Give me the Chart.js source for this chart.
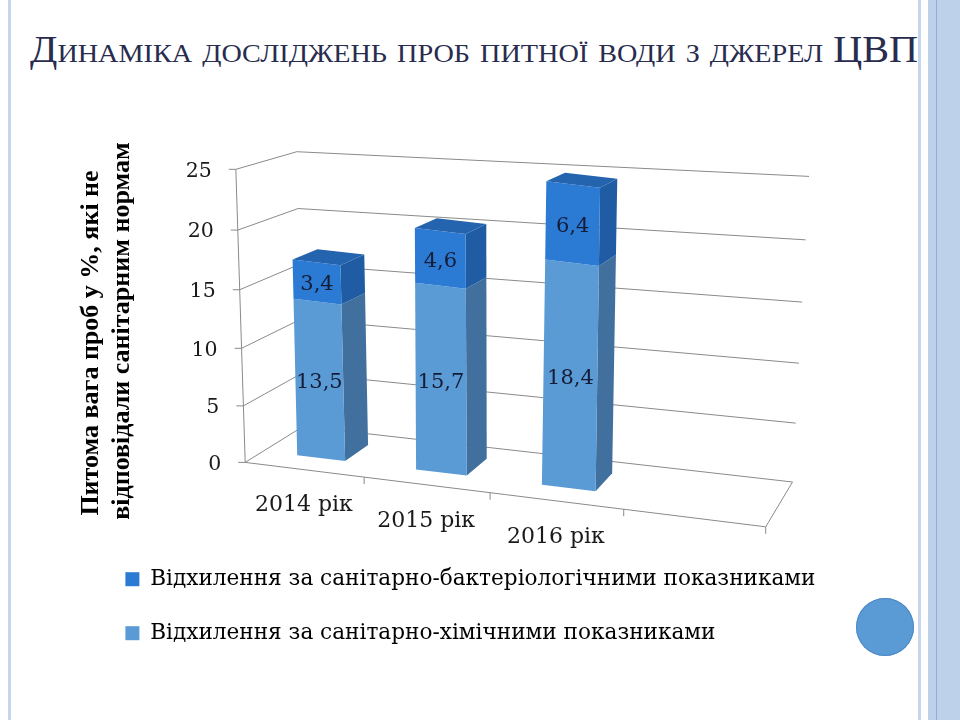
<!DOCTYPE html>
<html>
<head>
<meta charset="utf-8">
<script src="https://cdn.jsdelivr.net/npm/chart.js@4.4.1/dist/chart.umd.min.js"></script>
<style>
html, body { margin: 0; padding: 0; background: #fff; }
#slide { position: relative; width: 960px; height: 720px; overflow: hidden; background: #fff; }
.fl { position: absolute; top: 0; height: 720px; }
#title { position: absolute; left: 30px; top: 31px; white-space: nowrap; font-family: 'Liberation Serif', serif;
  font-variant: small-caps; font-size: 37px; line-height: 37px; color: #282c4e; transform-origin: 0 0; }
#dot { position: absolute; left: 856px; top: 598px; width: 58px; height: 58px; border-radius: 50%;
  background: #5b9bd5; box-shadow: inset 0 0 0 1px #4d89c4; }
#chartWrap { position: absolute; left: 0; top: 0; width: 960px; height: 720px; }
</style>
</head>
<body>
<div id="slide">
  <div class="fl" style="left:8px;width:3px;background:#c6d5eb"></div>
  <div class="fl" style="left:918px;width:3px;background:#c6d5eb"></div>
  <div class="fl" style="left:928px;width:32px;background:#bed1ea"></div>
  <div class="fl" style="left:936px;width:1px;background:#8daed9"></div>
  <div id="title">Динаміка досліджень проб питної води з джерел ЦВП</div>
  <div id="dot"></div>
  <div id="chartWrap"><canvas id="c"></canvas></div>
</div>
<script>
// ---------- data ----------
const categories = ['2014 рік', '2015 рік', '2016 рік', ''];
const chemicalValues = [13.5, 15.7, 18.4, null];
const bacteriologicalValues = [3.4, 4.6, 6.4, null];
const yTickValues = [0, 5, 10, 15, 20, 25];
const chemicalLabel = 'Відхилення за санітарно-хімічними показниками';
const bacteriologicalLabel = 'Відхилення за санітарно-бактеріологічними показниками';
const axisTitleLines = ['Питома вага проб у %, які не', 'відповідали санітарним нормам'];

// ---------- 3D frame calibration (u across floor, v up the value axis, w into depth) ----------
const FRAME = [
  [0, 0, 0, 248, 460], [0, 0.2, 0, 245, 405], [0, 0.4, 0, 242, 348], [0, 0.6, 0, 239, 290], [0, 0.8, 0, 236, 230], [0, 1, 0, 233, 170],
  [0.25, 0, 0, 365, 477], [0.5, 0, 0, 490, 493], [0.75, 0, 0, 623, 510], [1, 0, 0, 766, 529],
  [0, 0, 1, 300, 428], [0, 0.2, 1, 300, 375], [0, 0.4, 1, 300, 320], [0, 0.6, 1, 300, 264], [0, 0.8, 1, 300, 208], [0, 1, 1, 300, 151],
  [1, 0, 1, 793, 480], [1, 0.2, 1, 796, 422], [1, 0.4, 1, 799, 363], [1, 0.6, 1, 802, 302], [1, 0.8, 1, 805, 240], [1, 1, 1, 809, 177]
];
const BAR_DEPTH = [0.3, 0.73];
const GRID = '#8a8a8a';
const STYLE = [
  { front: '#5b9bd5', side: '#41709f', top: '#4a84bf' },
  { front: '#2b7bd5', side: '#1f5ca3', top: '#2463ae' }
];
const CX = 500, CY = 350, SC = 300;

function solve(A, b) {
  const n = b.length;
  for (let i = 0; i < n; i++) {
    let p = i;
    for (let r = i + 1; r < n; r++) if (Math.abs(A[r][i]) > Math.abs(A[p][i])) p = r;
    [A[i], A[p]] = [A[p], A[i]]; [b[i], b[p]] = [b[p], b[i]];
    for (let r = i + 1; r < n; r++) {
      const f = A[r][i] / A[i][i];
      for (let c = i; c < n; c++) A[r][c] -= f * A[i][c];
      b[r] -= f * b[i];
    }
  }
  const x = new Array(n).fill(0);
  for (let i = n - 1; i >= 0; i--) {
    let s = b[i];
    for (let c = i + 1; c < n; c++) s -= A[i][c] * x[c];
    x[i] = s / A[i][i];
  }
  return x;
}
function fitCamera(pts) {
  const N = 11;
  const AtA = Array.from({ length: N }, () => new Array(N).fill(0));
  const Atb = new Array(N).fill(0);
  const add = (row, rhs) => {
    for (let i = 0; i < N; i++) {
      Atb[i] += row[i] * rhs;
      for (let j = 0; j < N; j++) AtA[i][j] += row[i] * row[j];
    }
  };
  pts.forEach(([X, Y, Z, x, y]) => {
    const xn = (x - CX) / SC, yn = (y - CY) / SC;
    add([X, Y, Z, 1, 0, 0, 0, 0, -xn * X, -xn * Y, -xn * Z], xn);
    add([0, 0, 0, 0, X, Y, Z, 1, -yn * X, -yn * Y, -yn * Z], yn);
  });
  return solve(AtA, Atb);
}
const CAM = fitCamera(FRAME);
function P(u, v, w) {
  const m = CAM;
  const d = m[8] * u + m[9] * v + m[10] * w + 1;
  return {
    x: CX + SC * (m[0] * u + m[1] * v + m[2] * w + m[3]) / d,
    y: CY + SC * (m[4] * u + m[5] * v + m[6] * w + m[7]) / d
  };
}
function affineFrom(p00, p10, p01, xl, xr, yb, yt) {
  const a = (p10.x - p00.x) / (xr - xl), b = (p10.y - p00.y) / (xr - xl);
  const c = (p01.x - p00.x) / (yt - yb), d = (p01.y - p00.y) / (yt - yb);
  const e = p00.x - a * xl - c * yb, f = p00.y - b * xl - d * yb;
  const fn = (x, y) => ({ x: a * x + c * y + e, y: b * x + d * y + f });
  fn.m = [a, b, c, d, e, f];
  return fn;
}
const fmt = v => String(v).replace('.', ',');

const perspective3d = {
  id: 'perspective3d',
  beforeDatasetsDraw(chart) {
    const { ctx, chartArea: ca } = chart;
    const xs = chart.scales.x, ys = chart.scales.y;
    const U = px => (px - ca.left) / (ca.right - ca.left);
    const V = py => (ca.bottom - py) / (ca.bottom - ca.top);
    const seg = (p, q) => { ctx.beginPath(); ctx.moveTo(p.x, p.y); ctx.lineTo(q.x, q.y); ctx.stroke(); };
    const poly = (pts, color) => {
      ctx.beginPath(); ctx.moveTo(pts[0].x, pts[0].y);
      for (let i = 1; i < pts.length; i++) ctx.lineTo(pts[i].x, pts[i].y);
      ctx.closePath(); ctx.fillStyle = color; ctx.fill();
    };
    ctx.save();
    ctx.lineWidth = 1; ctx.strokeStyle = GRID;
    yTickValues.forEach(val => {
      const v = V(ys.getPixelForValue(val));
      const f = P(0, v, 0);
      seg(P(0, v, 1), P(1, v, 1));
      seg(f, P(0, v, 1));
      seg({ x: f.x - 7, y: f.y }, f);
    });
    seg(P(0, 0, 0), P(0, 1, 0));
    seg(P(0, 0, 0), P(1, 0, 0));
    seg(P(1, 0, 0), P(1, 0, 1));
    for (let i = 0; i < categories.length; i++) {
      const p = P(U(xs.getPixelForValue(i + 0.5)), 0, 0);
      seg(p, { x: p.x, y: p.y + 7 });
    }
    const metas = [chart.getDatasetMeta(0), chart.getDatasetMeta(1)];
    const store = [];
    for (let i = 0; i < categories.length; i++) {
      const segs = [];
      metas.forEach((meta, k) => {
        const val = chart.data.datasets[k].data[i];
        if (val != null && meta.data[i]) segs.push({ el: meta.data[i], k, val });
      });
      if (!segs.length) continue;
      const el0 = segs[0].el;
      const xl = el0.x - el0.width / 2, xr = el0.x + el0.width / 2;
      const ul = U(xl), ur = U(xr);
      const [z0, z1] = BAR_DEPTH;
      const A = affineFrom(P(ul, 0, z0), P(ur, 0, z0), P(ul, 1, z0), xl, xr, ca.bottom, ca.top);
      const B = affineFrom(P(ul, 0, z1), P(ur, 0, z1), P(ul, 1, z1), xl, xr, ca.bottom, ca.top);
      segs.forEach((s, j) => {
        const st = STYLE[s.k];
        const yb = s.el.base, yt = s.el.y;
        poly([A(xr, yb), B(xr, yb), B(xr, yt), A(xr, yt)], st.side);
        ctx.save();
        ctx.transform(...A.m);
        s.el.draw(ctx);
        ctx.restore();
        if (j === segs.length - 1) poly([A(xl, yt), A(xr, yt), B(xr, yt), B(xl, yt)], st.top);
        store.push({ A, x: s.el.x, yMid: (yb + yt) / 2, val: s.val });
      });
    }
    chart.$bars3d = store;
    ctx.restore();
    return false;
  },
  afterDraw(chart) {
    const { ctx, chartArea: ca } = chart;
    const xs = chart.scales.x, ys = chart.scales.y;
    const U = px => (px - ca.left) / (ca.right - ca.left);
    const V = py => (ca.bottom - py) / (ca.bottom - ca.top);
    ctx.save();
    // value axis labels
    ctx.font = '20.5px "DejaVu Serif"';
    ctx.fillStyle = '#1a1a1a';
    ctx.textAlign = 'right'; ctx.textBaseline = 'middle';
    yTickValues.forEach(val => {
      const p = P(0, V(ys.getPixelForValue(val)), 0);
      ctx.fillText(String(val), p.x - 24, p.y + 2);
    });
    // category labels
    ctx.font = '22px "DejaVu Serif"';
    ctx.textAlign = 'center';
    categories.forEach((c, i) => {
      if (!c) return;
      const p = P(U(xs.getPixelForValue(i)), 0, 0);
      ctx.fillText(c, p.x, p.y + 36);
    });
    // data labels
    ctx.font = '21px "DejaVu Serif"';
    ctx.fillStyle = '#151c36';
    (chart.$bars3d || []).forEach(b => {
      const p = b.A(b.x, b.yMid);
      ctx.fillText(fmt(b.val), p.x, p.y + 3);
    });
    // axis title
    ctx.fillStyle = '#000';
    ctx.font = 'bold 26px "Liberation Serif"';
    ctx.textBaseline = 'alphabetic';
    const titlePos = [[98, 343], [129, 331]];
    axisTitleLines.forEach((t, i) => {
      ctx.save();
      ctx.translate(titlePos[i][0], titlePos[i][1]);
      ctx.rotate(-Math.PI / 2);
      ctx.fillText(t, 0, 0);
      ctx.restore();
    });
    ctx.restore();
  }
};

Chart.defaults.font.family = '"DejaVu Serif", serif';
new Chart(document.getElementById('c'), {
  type: 'bar',
  data: {
    labels: categories,
    datasets: [
      { label: chemicalLabel, data: chemicalValues, backgroundColor: STYLE[0].front, borderWidth: 0, inflateAmount: 0 },
      { label: bacteriologicalLabel, data: bacteriologicalValues, backgroundColor: STYLE[1].front, borderWidth: 0, inflateAmount: 0 }
    ]
  },
  options: {
    responsive: true,
    maintainAspectRatio: false,
    animation: false,
    datasets: { bar: { categoryPercentage: 1, barPercentage: 0.41 } },
    layout: { padding: { left: 93, right: 0, top: 0, bottom: 66 } },
    scales: {
      x: { stacked: true, display: false, offset: true },
      y: { stacked: true, display: false, min: 0, max: 25 }
    },
    plugins: {
      tooltip: { enabled: false },
      legend: {
        position: 'bottom',
        align: 'start',
        reverse: true,
        labels: { boxWidth: 14, boxHeight: 14, padding: 32.4, color: '#000', font: { size: 21.6, family: '"DejaVu Serif"' } }
      }
    }
  },
  plugins: [perspective3d]
});

// fit the slide title to its width in the reference
const titleEl = document.getElementById('title');
const tw = titleEl.getBoundingClientRect().width;
titleEl.style.transform = 'scaleX(' + (888 / tw) + ')';
</script>
</body>
</html>
